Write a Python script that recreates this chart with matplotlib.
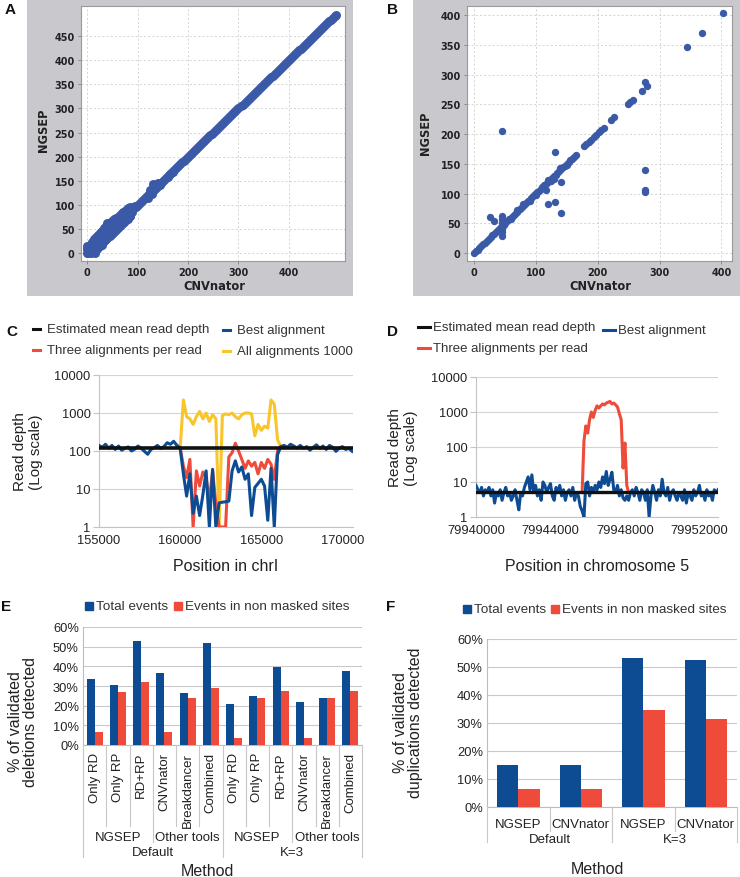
import matplotlib
matplotlib.use('Agg')
import numpy as np
import matplotlib.pyplot as plt
from matplotlib.lines import Line2D
from matplotlib.patches import Rectangle
import matplotlib.transforms as mtransforms
from matplotlib.ticker import NullLocator

plt.rcParams['font.family'] = ['Liberation Sans', 'DejaVu Sans']

# ---------------- DATA ----------------
# Panel A: NGSEP vs CNVnator (points on the diagonal, x == y)
a_diag = [0, 4, 8, 12, 16, 20, 24, 28, 32, 36, 40, 44, 48, 52, 56, 60, 64, 68, 72, 76, 80,
          84, 88, 92, 96, 100, 104, 108, 112, 116, 120, 124, 128, 132, 136, 140, 144, 148,
          152, 156, 160, 164, 168, 172, 176, 180, 184, 188, 192, 196, 200, 204, 208, 212,
          216, 220, 224, 228, 232, 236, 240, 244, 248, 252, 256, 260, 264, 268, 272, 276,
          280, 284, 288, 292, 296, 300, 304, 308, 312, 316, 320, 324, 328, 332, 336, 340,
          344, 348, 352, 356, 360, 364, 368, 372, 376, 380, 384, 388, 392, 396, 400, 404,
          408, 412, 416, 420, 424, 428, 432, 436, 440, 444, 448, 452, 456, 460, 464, 468,
          472, 476, 480, 484, 488, 492, 494]
a_off_cnv = [0, 0, 3, 5, 8, 10, 12, 14, 15, 16, 18, 20, 22, 24, 25, 27, 28, 30, 32, 34, 36,
             38, 40, 40, 42, 45, 46, 48, 50, 52, 55, 56, 58, 60, 62, 65, 66, 68, 70, 72, 74,
             76, 78, 80, 82, 85, 88, 90, 92, 95, 120, 125, 128, 130, 135, 140, 145, 160, 165,
             170,
             2, 6, 10, 14, 18, 22, 26, 30, 34, 38, 42, 46, 50, 54, 58, 62, 66, 70, 74, 78, 82,
             86,
             2, 6, 10, 14, 18, 22, 26, 30, 34, 38, 42, 46, 50, 54, 58, 62, 66, 70, 74, 78, 82,
             86]
a_off_ngsep = [8, 16, 4, 12, 0, 20, 5, 28, 0, 14, 32, 8, 22, 38, 15, 30, 45, 18, 35, 25, 45,
               30, 50, 62, 38, 55, 35, 65, 45, 60, 50, 70, 58, 72, 55, 68, 78, 60, 75, 85, 65,
               80, 88, 72, 85, 78, 90, 85, 95, 98, 115, 130, 122, 143, 138, 145, 142, 158, 165,
               168,
               12, 18, 24, 30, 34, 38, 42, 46, 52, 56, 58, 62, 66, 70, 74, 76, 80, 84, 86, 90,
               94, 96,
               0, 2, 4, 8, 10, 14, 18, 22, 26, 30, 34, 38, 40, 44, 48, 52, 56, 60, 64, 68, 72,
               78]

# Panel B
b_diag = [0, 3, 6, 9, 12, 15, 18, 21, 24, 27, 30, 33, 36, 39, 42, 45, 48, 51, 54, 57, 60, 63,
          66, 69, 72, 75, 78, 81, 84, 87, 90, 93, 96, 99, 102, 105, 108, 111, 114, 117, 120,
          123, 126, 129, 132, 135, 138, 141, 144, 147, 150, 153, 156, 159, 162, 165]
b_off_cnv = [178, 182, 186, 190, 194, 198, 202, 206, 210, 222, 226, 249, 253, 257, 272, 276,
             280, 345, 369, 403, 45, 131, 26, 33, 45, 45, 45, 45, 45, 45, 116, 120, 131, 141,
             141, 130, 125, 276, 276, 276,
             60, 80, 100, 120, 140, 150, 110, 90, 70]
b_off_ngsep = [180, 183, 187, 190, 195, 199, 203, 207, 211, 224, 228, 250, 254, 257, 273, 288,
               280, 346, 370, 403, 205, 170, 61, 54, 63, 58, 50, 29, 35, 40, 107, 82, 86, 67,
               119, 124, 122, 140, 106, 103,
               58, 82, 98, 123, 143, 148, 112, 88, 72]

# Panel C: read depth around chrI region (bins of 200 bp)
c_start, c_step = 155000, 200
c_best = [140, 125, 150, 118, 140, 110, 135, 105, 118, 128, 100, 112, 135, 118, 98, 82, 110,
          122, 140, 118, 130, 165, 150, 180, 140,
          120, 25, 6.5, 25, 2.3, 6.5, 2.0, 7, 30, 1.0, 33, 1.0, 4.3, 4.5, 4.6, 4.8, 30, 55, 28,
          38, 18, 25, 2.0, 11, 14, 18, 12, 1.5, 35, 1.0, 80,
          130, 140, 125, 150, 135, 120, 140, 118, 130, 105, 125, 145, 118, 135, 110, 140, 125,
          98, 120, 130, 110, 118, 98]
c_region_start = 159800
c_three = [140, 120, 40, 20, 60, 1.0, 30, 12, 28, 20, 5, 30, 4, 1.0, 1.0, 1.0, 70, 90, 160,
           100, 60, 35, 55, 40, 50, 25, 50, 35, 60, 45, 18, 100, 130]
c_all = [140, 120, 2200, 800, 700, 500, 800, 1100, 700, 1000, 600, 900, 700, 1.0, 850, 950,
         900, 1000, 800, 700, 900, 1000, 1000, 950, 250, 500, 350, 450, 400, 2200, 1700, 200, 130]
c_mean = 118

# Panel D: read depth in chromosome 5 (bins of 100 bp)
d_start, d_step = 79940000, 100
d_best = [8, 6, 5, 7, 4, 6, 5, 7, 4, 6,
          2.5, 5, 4, 6, 3, 5, 7, 4, 5, 3,
          4, 6, 3, 1.6, 5, 4, 7, 10, 14, 6,
          16, 5, 8, 4, 6, 3, 10, 8, 5, 7,
          9, 4, 3, 7, 5, 8, 4, 6, 3, 5,
          6, 4, 7, 3, 5, 4, 2, 1.5, 1, 9,
          10, 4, 7, 5, 8, 6, 10, 7, 14, 9,
          20, 8, 12, 19, 6, 5, 8, 4, 6, 3.5,
          3, 4, 3, 5, 6, 4, 7, 5, 3, 6,
          5, 3, 6, 1, 4, 8, 5, 3, 6, 4,
          12, 5, 4, 7, 3, 5, 6, 4, 3, 5,
          4, 3, 6, 2.5, 5, 4, 3, 6, 4, 5,
          8, 4, 5, 3, 6, 4, 5, 3, 6, 5,
          6]
d_region_start = 79945700
d_three = [5, 150, 400, 250, 600, 1000, 700, 1100, 1500, 1300, 1500, 1700, 1600, 1800, 1900,
           2000, 1700, 1800, 1600, 1400, 900, 600, 25, 130, 8, 5]
d_mean = 5.2

# Panel E
e_cats = ['Only RD', 'Only RP', 'RD+RP', 'CNVnator', 'Breakdancer', 'Combined'] * 2
e_groups = ['NGSEP', 'Other tools', 'NGSEP', 'Other tools']
e_settings = ['Default', 'K=3']
e_total = [33.5, 30.5, 52.8, 36.5, 26.6, 52.0, 21.1, 24.7, 39.5, 21.8, 23.7, 37.8]
e_nonmasked = [6.8, 27.1, 32.2, 6.8, 23.7, 28.8, 3.4, 23.7, 27.3, 3.4, 23.7, 27.3]

# Panel F
f_cats = ['NGSEP', 'CNVnator', 'NGSEP', 'CNVnator']
f_settings = ['Default', 'K=3']
f_total = [14.9, 14.9, 53.2, 52.6]
f_nonmasked = [6.3, 6.3, 34.5, 31.3]

# ---------------- STYLE ----------------
W, H = 740, 878
BLUE = '#0d4c92'
RED = '#ee4b3a'
YELLOW = '#f8c52a'
SC = '#3a5aa8'
BG = '#c9c9cd'
TXT = '#222222'

fig = plt.figure(figsize=(7.4, 8.78), dpi=100)


def add_ax(l, t, r, b, **kw):
    return fig.add_axes([l / W, 1 - b / H, (r - l) / W, (b - t) / H], **kw)


def fx(x):
    return x / W


def fy(y):
    return 1 - y / H


def ftext(x, y, s, **kw):
    kw.setdefault('ha', 'center')
    kw.setdefault('va', 'center')
    kw.setdefault('color', TXT)
    return fig.text(fx(x), fy(y), s, **kw)


def fline(x1, x2, y1, y2, **kw):
    fig.add_artist(Line2D([fx(x1), fx(x2)], [fy(y1), fy(y2)], transform=fig.transFigure, **kw))


# ---------------- A & B scatter ----------------
def scatter_panel(rect_bg, rect_ax, xs, ys, xlim, ylim, xt, yt, ms, xlab_pos, ylab_pos):
    bg = add_ax(*rect_bg, zorder=-5)
    bg.set_facecolor(BG)
    bg.set_xticks([])
    bg.set_yticks([])
    for sp in bg.spines.values():
        sp.set_visible(False)
    ax = add_ax(*rect_ax, zorder=1)
    ax.scatter(xs, ys, s=ms, color=SC, lw=0, zorder=3)
    ax.set_xlim(*xlim)
    ax.set_ylim(*ylim)
    ax.set_xticks(xt)
    ax.set_yticks(yt)
    ax.grid(True, ls=(0, (2.5, 2.5)), color='#cfcfcf', lw=0.6)
    ax.set_axisbelow(True)
    for sp in ax.spines.values():
        sp.set_color('#9a9a9a')
        sp.set_linewidth(0.8)
    ax.tick_params(length=2.5, width=0.7, color='#888888', pad=2, labelsize=7,
                   labelcolor=TXT)
    for lab in ax.get_xticklabels() + ax.get_yticklabels():
        lab.set_fontweight('bold')
        lab.set_family('DejaVu Sans')
    ftext(*xlab_pos, 'CNVnator', fontsize=8.3, fontweight='bold', family='DejaVu Sans')
    ftext(*ylab_pos, 'NGSEP', fontsize=8.3, fontweight='bold', family='DejaVu Sans',
          rotation=90)
    return ax


scatter_panel((27, 0, 353, 297), (81, 7, 345, 262),
              a_diag + a_off_cnv, a_diag + a_off_ngsep,
              (-12, 511), (-16, 512), [0, 100, 200, 300, 400],
              [0, 50, 100, 150, 200, 250, 300, 350, 400, 450], 42, (214, 286), (43, 130))
scatter_panel((413, 0, 740, 297), (467, 7, 732, 262),
              b_diag + b_off_cnv, b_diag + b_off_ngsep,
              (-11, 417), (-13, 415), [0, 100, 200, 300, 400],
              [0, 50, 100, 150, 200, 250, 300, 350, 400], 28, (600, 286), (425, 133))


# ---------------- C & D read depth ----------------
def depth_axes(rect, xlim, xt):
    ax = add_ax(*rect)
    ax.set_yscale('log')
    ax.set_ylim(1, 10000)
    ax.set_xlim(*xlim)
    ax.set_yticks([1, 10, 100, 1000, 10000])
    ax.set_yticklabels(['1', '10', '100', '1000', '10000'])
    ax.yaxis.set_minor_locator(NullLocator())
    ax.set_xticks(xt)
    ax.set_xticklabels([str(v) for v in xt])
    ax.yaxis.grid(True, color='#d4d4d4', lw=0.8)
    ax.set_axisbelow(True)
    for s in ['top', 'right']:
        ax.spines[s].set_visible(False)
    for s in ['left', 'bottom']:
        ax.spines[s].set_color('#c4c4c4')
        ax.spines[s].set_linewidth(0.8)
    ax.tick_params(axis='y', length=4, color='#c4c4c4', pad=2, labelsize=9.3, labelcolor=TXT)
    ax.tick_params(axis='x', length=0, pad=5, labelsize=9.3, labelcolor=TXT)
    return ax


axc = depth_axes((99, 376, 353, 528), (155000, 170650), [155000, 160000, 165000, 170000])
pos_c = [c_start + c_step * i for i in range(len(c_best))]
pos_c_reg = [c_region_start + c_step * i for i in range(len(c_three))]
axc.plot(pos_c_reg, c_all, color=YELLOW, lw=2.2, zorder=3)
axc.plot(pos_c_reg, c_three, color=RED, lw=2.2, zorder=4)
axc.plot(pos_c, c_best, color=BLUE, lw=2.2, zorder=5)
axc.axhline(c_mean, color='#111111', lw=2.6, zorder=6)

axd = depth_axes((476, 378, 718, 518), (79940000, 79953000),
                 [79940000, 79944000, 79948000, 79952000])
pos_d = [d_start + d_step * i for i in range(len(d_best))]
pos_d_reg = [d_region_start + d_step * i for i in range(len(d_three))]
axd.plot(pos_d_reg, d_three, color=RED, lw=2.2, zorder=3)
axd.plot(pos_d, d_best, color=BLUE, lw=2.2, zorder=4)
axd.axhline(d_mean, color='#111111', lw=2.4, zorder=6)

# labels C / D
ftext(28, 452, 'Read depth\n(Log scale)', fontsize=11, rotation=90, linespacing=1.15)
ftext(226, 567, 'Position in chrI', fontsize=11.5)
ftext(403, 448, 'Read depth\n(Log scale)', fontsize=11, rotation=90, linespacing=1.15)
ftext(597, 567, 'Position in chromosome 5', fontsize=11.5)

# legends C
for (x1, x2, y, col, lab) in [(33, 40, 330, '#111111', 'Estimated mean read depth'),
                              (223, 230, 331, BLUE, 'Best alignment'),
                              (33, 40, 351, RED, 'Three alignments per read'),
                              (223, 230, 352, YELLOW, 'All alignments 1000')]:
    fline(x1, x2, y, y, color=col, lw=2.2)
    ftext(x2 + 7, y, lab, ha='left', fontsize=9.5, color='#333333')
# legends D
for (x1, x2, y, col, lab) in [(418, 430, 328, '#111111', 'Estimated mean read depth'),
                              (603, 615, 331, BLUE, 'Best alignment'),
                              (418, 430, 349, RED, 'Three alignments per read')]:
    fline(x1, x2, y, y, color=col, lw=2.2)
    ftext(x2 + 3, y, lab, ha='left', fontsize=9.5, color='#333333')


# ---------------- E & F bars ----------------
def bar_axes(rect, total, nonmasked, labels, rot, pad):
    ax = add_ax(*rect)
    idx = np.arange(len(total))
    ax.bar(idx - 0.17, total, width=0.34, color=BLUE, zorder=3)
    ax.bar(idx + 0.17, nonmasked, width=0.34, color=RED, zorder=3)
    ax.set_xlim(-0.5, len(total) - 0.5)
    ax.set_ylim(0, 60)
    ax.set_yticks([0, 10, 20, 30, 40, 50, 60])
    ax.set_yticklabels(['%d%%' % v for v in [0, 10, 20, 30, 40, 50, 60]])
    ax.set_xticks(idx)
    ax.set_xticklabels(labels, rotation=rot)
    ax.yaxis.grid(True, color='#c9c9c9', lw=0.8)
    ax.set_axisbelow(True)
    for s in ['top', 'right']:
        ax.spines[s].set_visible(False)
    for s in ['left', 'bottom']:
        ax.spines[s].set_color('#bdbdbd')
        ax.spines[s].set_linewidth(0.8)
    ax.tick_params(axis='y', length=0, pad=3, labelsize=9.3, labelcolor=TXT)
    ax.tick_params(axis='x', length=0, pad=pad, labelsize=9.5, labelcolor=TXT)
    return ax


axe = bar_axes((83, 628, 362, 746), e_total, e_nonmasked, e_cats, 90, 5)
axf = bar_axes((487, 640, 737, 808), f_total, f_nonmasked, f_cats, 0, 8)

SEPC = '#c8c8c8'
tr_e = mtransforms.blended_transform_factory(axe.transData, fig.transFigure)
for k in range(13):
    if k in (0, 6, 12):
        yb = 858
    elif k in (3, 9):
        yb = 843
    else:
        yb = 827
    fig.add_artist(Line2D([k - 0.5, k - 0.5], [fy(746), fy(yb)], transform=tr_e,
                          color=SEPC, lw=0.8))
for gi, g in enumerate(e_groups):
    fig.text(gi * 3 + 1, fy(838), g, transform=tr_e, ha='center', va='center',
             fontsize=9.5, color=TXT)
for si, s in enumerate(e_settings):
    fig.text(si * 6 + 2.5, fy(853), s, transform=tr_e, ha='center', va='center',
             fontsize=9.5, color=TXT)

tr_f = mtransforms.blended_transform_factory(axf.transData, fig.transFigure)
for k in range(5):
    yb = 843 if k in (0, 2, 4) else 832
    fig.add_artist(Line2D([k - 0.5, k - 0.5], [fy(808), fy(yb)], transform=tr_f,
                          color=SEPC, lw=0.8))
for si, s in enumerate(f_settings):
    fig.text(si * 2 + 0.5, fy(840), s, transform=tr_f, ha='center', va='center',
             fontsize=9.5, color=TXT)

ftext(207, 872, 'Method', fontsize=11.5)
ftext(597, 870, 'Method', fontsize=11.5)
ftext(23, 722, '% of validated\ndeletions detected', fontsize=11.5, rotation=90,
      linespacing=1.05)
ftext(408, 723, '% of validated\nduplications detected', fontsize=11.5, rotation=90,
      linespacing=1.05)

# bar legends
for (sx, tx, y, col, lab) in [(85, 96, 607, BLUE, 'Total events'),
                              (174, 185, 607, RED, 'Events in non masked sites'),
                              (463, 474, 610, BLUE, 'Total events'),
                              (551, 562, 610, RED, 'Events in non masked sites')]:
    fig.patches.append(Rectangle((fx(sx), fy(y + 4)), 8 / W, 8 / H, transform=fig.transFigure,
                                 color=col))
    ftext(tx, y, lab, ha='left', fontsize=9.7, color='#333333')

# panel letters
for (x, y, s) in [(10, 10, 'A'), (393, 10, 'B'), (12, 332, 'C'), (392, 332, 'D'),
                  (6, 607, 'E'), (391, 607, 'F')]:
    ftext(x, y, s, fontsize=11, fontweight='bold', color='#111111')

fig.savefig('out.png', dpi=100)
